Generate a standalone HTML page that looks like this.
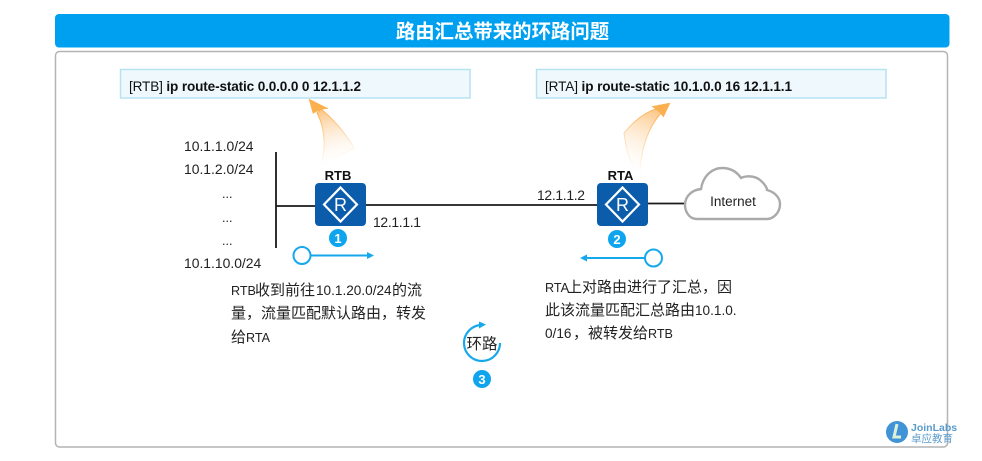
<!DOCTYPE html>
<html><head><meta charset="utf-8"><style>
html,body{margin:0;padding:0;background:#fff;width:982px;height:461px;overflow:hidden}
svg{display:block;filter:blur(.35px)}
text{font-family:"Liberation Sans","Noto Sans CJK SC",sans-serif;fill:#222}
.p{font-size:15px;fill:#222}
.l{font-size:13.6px;fill:#222}
.s{font-size:12.6px;fill:#222}
.n{font-size:13.9px;fill:#222}
</style></head><body>
<svg width="982" height="461" viewBox="0 0 982 461" xmlns="http://www.w3.org/2000/svg">
<defs>
<linearGradient id="g1" gradientUnits="userSpaceOnUse" x1="322" y1="108" x2="336" y2="166"><stop offset="0" stop-color="#fcc27c"/><stop offset="1" stop-color="#fff" stop-opacity="0"/></linearGradient>
<linearGradient id="g1s" gradientUnits="userSpaceOnUse" x1="322" y1="108" x2="336" y2="160"><stop offset="0" stop-color="#fbb050"/><stop offset="1" stop-color="#fbb050" stop-opacity="0"/></linearGradient>
<linearGradient id="g2" gradientUnits="userSpaceOnUse" x1="660" y1="108" x2="632" y2="176"><stop offset="0" stop-color="#fcc27c"/><stop offset="1" stop-color="#fff" stop-opacity="0"/></linearGradient>
<linearGradient id="g2s" gradientUnits="userSpaceOnUse" x1="660" y1="108" x2="632" y2="170"><stop offset="0" stop-color="#fbb050"/><stop offset="1" stop-color="#fbb050" stop-opacity="0"/></linearGradient>
</defs>
<rect x="55" y="14" width="894.5" height="33.5" rx="4" fill="#00a0f0"/>
<text x="502.5" y="38" text-anchor="middle" font-size="19.4" font-weight="bold" style="fill:#fff">路由汇总带来的环路问题</text>
<rect x="55.5" y="51.5" width="892" height="395.5" rx="4" fill="#fff" stroke="#b4b4b4" stroke-width="1.5"/>

<rect x="120.5" y="69.5" width="349.5" height="28.5" fill="#eff9fd" stroke="#b5e3f2" stroke-width="1.5"/>
<text x="129" y="91" font-size="13.6" textLength="232" lengthAdjust="spacing" style="fill:#111">[RTB] <tspan font-weight="bold">ip route-static 0.0.0.0 0 12.1.1.2</tspan></text>
<rect x="536.5" y="69.5" width="349.5" height="28.5" fill="#eff9fd" stroke="#b5e3f2" stroke-width="1.5"/>
<text x="545" y="91" font-size="13.6" textLength="247" lengthAdjust="spacing" style="fill:#111">[RTA] <tspan font-weight="bold">ip route-static 10.1.0.0 16 12.1.1.1</tspan></text>

<path d="M317 113C325 128 326 148 321 165L354 148C345 132 332 118 321 109Z" fill="url(#g1)" stroke="url(#g1s)"/>
<path d="M309 99L328 108.500L320 109.500L313 113.500Z" fill="#fbb050" stroke="#fbb050" stroke-width=".5"/>
<path d="M656 109C643 113 633 122 624 133C626 150 630 165 640 177C640 150 648 128 661 113Z" fill="url(#g2)" stroke="url(#g2s)"/>
<path d="M670 103L652 106.500L658 110.500L663.500 117Z" fill="#fbb050" stroke="#fbb050" stroke-width=".5"/>

<path d="M276 152V248M276 206H315M366 205H597M648 203.500H686" stroke="#1a1a1a" stroke-width="1.800" fill="none"/>

<text class="n" x="184" y="151">10.1.1.0/24</text>
<text class="n" x="184" y="174">10.1.2.0/24</text>
<text class="s" x="222" y="198">...</text>
<text class="s" x="222" y="222">...</text>
<text class="s" x="222" y="245">...</text>
<text class="n" x="184" y="268">10.1.10.0/24</text>
<text class="n" x="373" y="227" textLength="48">12.1.1.1</text>
<text class="n" x="537" y="200" textLength="48">12.1.1.2</text>
<text x="338" y="180" text-anchor="middle" font-size="13" font-weight="bold" style="fill:#111">RTB</text>
<text x="620.500" y="180" text-anchor="middle" font-size="13" font-weight="bold" style="fill:#111">RTA</text>

<rect x="315" y="183" width="51" height="43" rx="4" fill="#0b5cab"/>
<path d="M340.500 187.500L357 204.500L340.500 221.500L324 204.500Z" fill="none" stroke="#fff" stroke-width="2.200"/>
<text x="340.500" y="211" text-anchor="middle" font-size="18" style="fill:#fff">R</text>
<rect x="597" y="183" width="51" height="43" rx="4" fill="#0b5cab"/>
<path d="M622.500 187.500L639 204.500L622.500 221.500L606 204.500Z" fill="none" stroke="#fff" stroke-width="2.200"/>
<text x="622.500" y="211" text-anchor="middle" font-size="18" style="fill:#fff">R</text>

<path d="M697 219C688 219 685 210 685 205C685 196 692 190 701 189C703 176 712 168 722 168C731 168 737 172 741 178C745 176 754 175 760 180C765 184 767 188 767 190C775 192 780 198 780 204C780 213 773 219 767 219Z" fill="#fff" stroke="#aaa" stroke-width="2.400"/>
<text x="733" y="206" text-anchor="middle" font-size="13.500" style="fill:#222">Internet</text>

<circle cx="338" cy="238" r="9" fill="#0ea5ee"/>
<text x="338" y="243" text-anchor="middle" font-size="13" font-weight="bold" style="fill:#fff">1</text>
<circle cx="617" cy="239" r="9" fill="#0ea5ee"/>
<text x="617" y="244" text-anchor="middle" font-size="13" font-weight="bold" style="fill:#fff">2</text>
<circle cx="482" cy="379" r="9" fill="#0ea5ee"/>
<text x="482" y="384" text-anchor="middle" font-size="13" font-weight="bold" style="fill:#fff">3</text>

<circle cx="302" cy="255.500" r="8.500" fill="#fff" stroke="#17a8ec" stroke-width="2"/>
<path d="M311 255.500H368" stroke="#17a8ec" stroke-width="2"/>
<path d="M374 255.500L367 252V259Z" fill="#17a8ec"/>
<circle cx="653.500" cy="258" r="8.500" fill="#fff" stroke="#17a8ec" stroke-width="2"/>
<path d="M645 258H586" stroke="#17a8ec" stroke-width="2"/>
<path d="M580 258L587 254.500V261.500Z" fill="#17a8ec"/>

<text class="p" y="295"><tspan class="s" x="231">RTB</tspan><tspan x="255">收到前往</tspan><tspan class="l" x="316">10.1.20.0/24</tspan><tspan x="392">的流</tspan></text>
<text class="p" x="231" y="318">量，流量匹配默认路由，转发</text>
<text class="p" y="342"><tspan x="231">给</tspan><tspan class="s" x="246">RTA</tspan></text>
<text class="p" y="292"><tspan class="s" x="545">RTA</tspan><tspan x="567">上对路由进行了汇总，因</tspan></text>
<text class="p" y="315"><tspan x="545">此该流量匹配汇总路由</tspan><tspan class="l" x="695">10.1.0.</tspan></text>
<text class="p" y="338"><tspan class="l" x="545">0/16</tspan><tspan x="573">，被转发给</tspan><tspan class="s" x="648">RTB</tspan></text>

<path d="M500 343A18 18 0 1 1 481 325" fill="none" stroke="#17a8ec" stroke-width="2.200"/>
<path d="M486 324.500L479 321.500V328.500Z" fill="#17a8ec"/>
<text x="482" y="349" text-anchor="middle" font-size="15.500" style="fill:#222">环路</text>

<circle cx="897" cy="432" r="11" fill="#3f93d6"/>
<path d="M897 424L894 437H901" fill="none" stroke="#dff0d8" stroke-width="3"/>
<text x="911" y="431" font-size="10.500" font-weight="bold" style="fill:#5b9ccc">JoinLabs</text>
<text x="911" y="442" font-size="10.500" textLength="42" lengthAdjust="spacing" style="fill:#5b9ccc">卓应教育</text>
</svg>
</body></html>
